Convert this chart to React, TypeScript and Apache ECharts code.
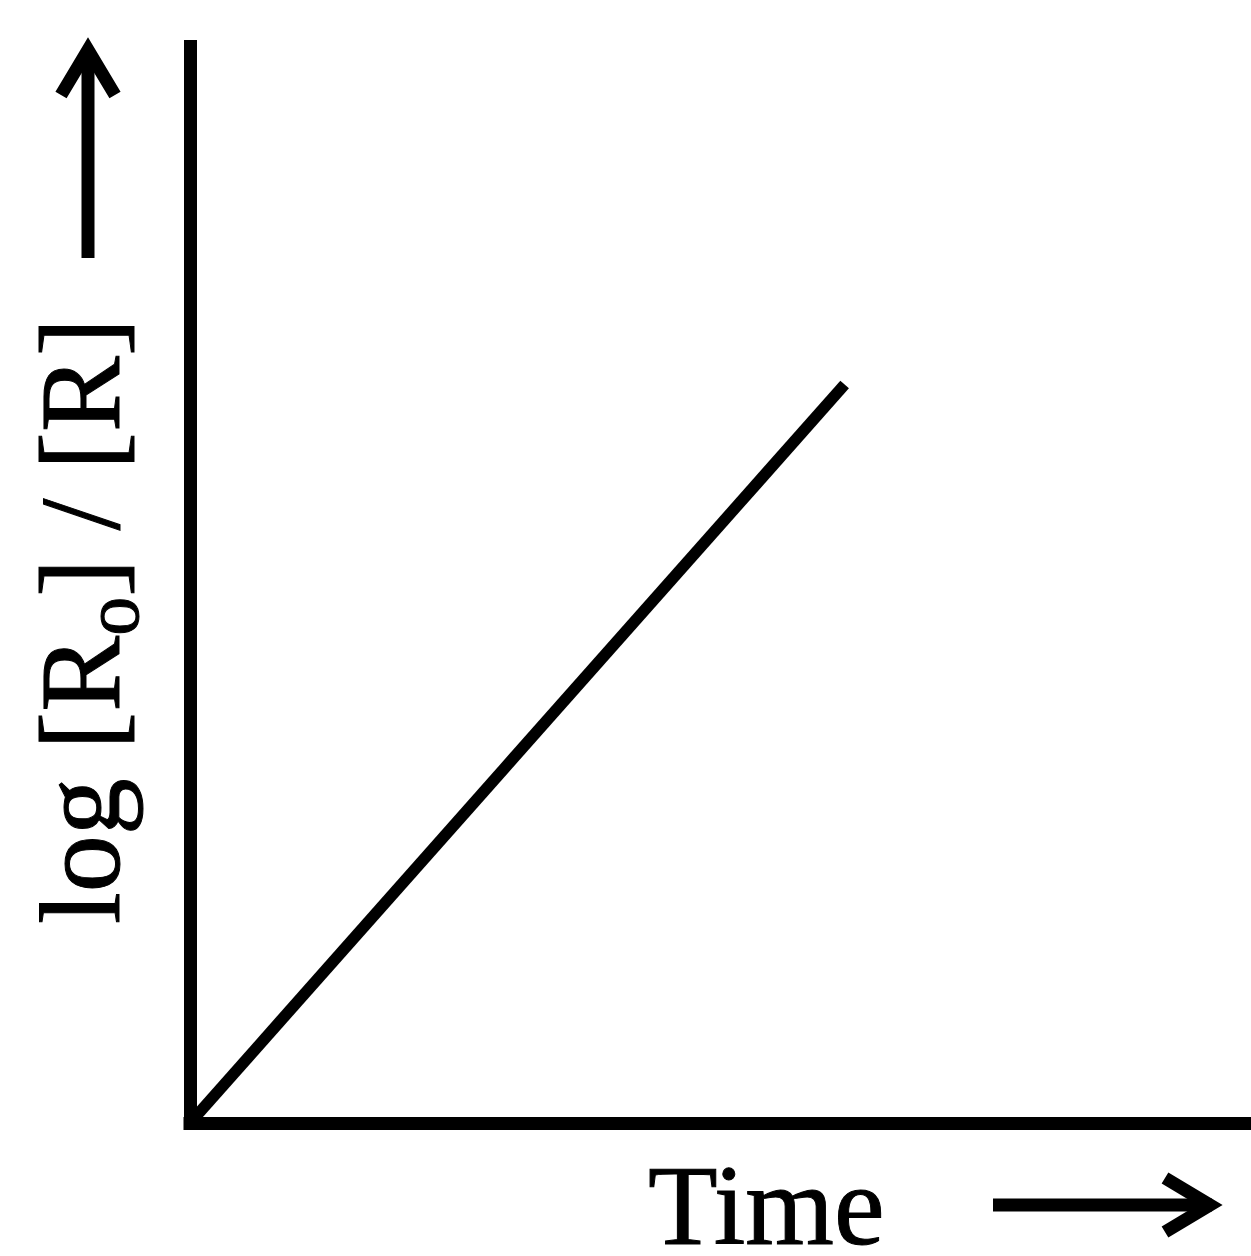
import React, { useEffect, useRef } from "react";
import * as echarts from "echarts";

// Data: a straight line from the origin (first-order kinetics plot)
const timeValues = [0, 61.7];
const logRatioValues = [0, 68.6];
const xAxisTitle = "Time";
const yAxisMain1 = "log [R";
const yAxisSub = "o";
const yAxisMain2 = "] / [R]";

const FONT = "'Liberation Serif', 'Times New Roman', serif";

export default function App() {
  const ref = useRef<HTMLDivElement>(null);

  useEffect(() => {
    if (!ref.current) return;
    const chart = echarts.init(ref.current, undefined, { renderer: "svg" });
    const seriesData = timeValues.map((t, i) => [t, logRatioValues[i]]);

    chart.setOption({
      animation: false,
      backgroundColor: "#ffffff",
      grid: { left: 190, right: 0, top: 46.5, bottom: 133, containLabel: false },
      xAxis: {
        type: "value",
        min: 0,
        max: 100,
        axisLine: { show: true, onZero: false, lineStyle: { color: "#000", width: 13, cap: "square" } },
        axisTick: { show: false },
        axisLabel: { show: false },
        splitLine: { show: false },
      },
      yAxis: {
        type: "value",
        min: 0,
        max: 100,
        axisLine: { show: true, onZero: false, lineStyle: { color: "#000", width: 13, cap: "square" } },
        axisTick: { show: false },
        axisLabel: { show: false },
        splitLine: { show: false },
      },
      series: [
        {
          type: "line",
          data: seriesData,
          showSymbol: false,
          symbol: "none",
          clip: false,
          lineStyle: { color: "#000", width: 11.5, cap: "butt" },
        },
      ],
      graphic: [
        {
          type: "text",
          x: 80,
          y: 621,
          rotation: Math.PI / 2,
          style: {
            text: `{a|${yAxisMain1}}{b|${yAxisSub}}{a|${yAxisMain2}}`,
            align: "center",
            verticalAlign: "middle",
            fill: "#000",
            rich: {
              a: { fontSize: 114, fontFamily: FONT, lineHeight: 130, fill: "#000", stroke: "#000", lineWidth: 1 },
              b: { fontSize: 78, fontFamily: FONT, lineHeight: 60, padding: [62, 0, 0, 0], fill: "#000", stroke: "#000", lineWidth: 1 },
            },
          },
        },
        {
          type: "text",
          x: 648,
          y: 1205,
          style: {
            text: xAxisTitle,
            fontSize: 114,
            fontFamily: FONT,
            fill: "#000",
            stroke: "#000",
            lineWidth: 1,
            align: "left",
            verticalAlign: "middle",
          },
        },
        // Y arrow
        {
          type: "line",
          shape: { x1: 88, y1: 258, x2: 88, y2: 52 },
          style: { stroke: "#000", lineWidth: 13 },
        },
        {
          type: "polyline",
          shape: { points: [[61, 95], [88, 50], [115, 95]] },
          style: { stroke: "#000", lineWidth: 13, fill: null, lineJoin: "miter" },
        },
        // X arrow
        {
          type: "line",
          shape: { x1: 993, y1: 1205, x2: 1212, y2: 1205 },
          style: { stroke: "#000", lineWidth: 13 },
        },
        {
          type: "polyline",
          shape: { points: [[1165, 1178], [1210, 1205], [1165, 1232]] },
          style: { stroke: "#000", lineWidth: 13, fill: null, lineJoin: "miter" },
        },
      ],
    });
    return () => chart.dispose();
  }, []);

  return (
    <div
      ref={ref}
      style={{ position: "absolute", left: 0, top: 0, width: 1251, height: 1256, background: "#fff" }}
    />
  );
}
